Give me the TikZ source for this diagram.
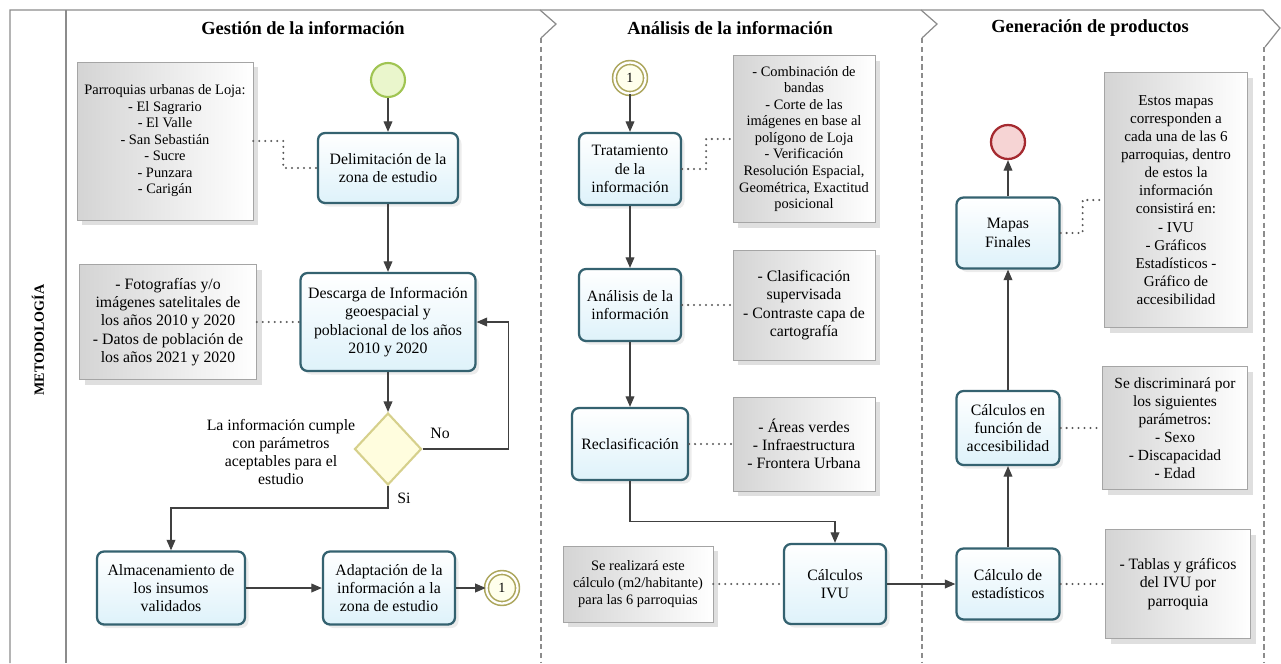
\documentclass[tikz,border=0pt]{standalone}
\usepackage{fontspec}
\setmainfont{Liberation Serif}
\usetikzlibrary{shapes.geometric,arrows.meta,shadows}

\definecolor{taskline}{RGB}{52,98,112}
\definecolor{taskfill}{RGB}{222,242,250}
\definecolor{notegray}{RGB}{212,212,212}
\definecolor{noteline}{RGB}{165,165,165}
\definecolor{startfill}{RGB}{234,246,204}
\definecolor{startline}{RGB}{160,196,82}
\definecolor{endfill}{RGB}{246,212,212}
\definecolor{endline}{RGB}{165,42,48}
\definecolor{linkline}{RGB}{172,166,92}
\definecolor{linkfill}{RGB}{255,255,236}
\definecolor{gatefill}{RGB}{255,253,222}
\definecolor{gateline}{RGB}{214,208,140}

\tikzset{
  txt/.style={align=center,font=\fontsize{9}{10.4}\selectfont},
  task/.style={txt,draw=taskline,line width=1.3pt,rounded corners=4pt,
    top color=white,bottom color=taskfill,inner sep=2pt,
    drop shadow={opacity=0.15,shadow xshift=2pt,shadow yshift=-2pt}},
  note/.style={align=center,font=\fontsize{8.2}{9.4}\selectfont,draw=noteline,
    line width=0.4pt,left color=notegray,right color=white,inner sep=2pt,
    drop shadow={opacity=0.25,shadow xshift=3pt,shadow yshift=-3pt}},
  flow/.style={draw=black!75,line width=0.7pt,-{Triangle[length=6pt,width=5pt]}},
  assoc/.style={draw=black!65,line width=1.3pt,line cap=round,dash pattern=on 0pt off 3.4pt},
  frame/.style={draw=black!45,line width=0.7pt},
  lane/.style={draw=black!45,line width=0.6pt,dash pattern=on 3pt off 2pt},
  lanetitle/.style={font=\bfseries\fontsize{10.5}{12}\selectfont},
  link/.style={circle,draw=linkline,line width=0.9pt,double=white,double distance=1.3pt,
    fill=linkfill,minimum size=0.62cm,inner sep=0pt,font=\fontsize{8}{9}\selectfont}
}

\begin{document}
\begin{tikzpicture}[x=0.02cm,y=-0.02cm]
\useasboundingbox (0,0) rectangle (1281,663);

\draw[frame] (10,663) -- (10,10) -- (1263,10) -- (1280,28) -- (1265,47);
\draw[frame] (66,10) -- (66,663);
\draw[frame] (540,10) -- (556,24) -- (541,38);
\draw[frame] (921,10) -- (937,24) -- (922,38);
\draw[lane] (541,38) -- (541,663);
\draw[lane] (922,38) -- (922,663);
\draw[lane] (1264,47) -- (1264,663);

\node[font=\bfseries\fontsize{8}{9}\selectfont,rotate=90] (lanename) at (38,340) {METODOLOGÍA};
\node[lanetitle] (t1) at (303,28) {Gestión de la información};
\node[lanetitle] (t2) at (730,28) {Análisis de la información};
\node[lanetitle] (t3) at (1090,28) {Generación de productos};

\node[circle,draw=startline,line width=1.2pt,fill=startfill,minimum size=0.68cm] (start) at (388,80) {};
\node[note,minimum width=3.52cm,minimum height=3.16cm] (note1) at (165,141)
  {Parroquias urbanas de Loja:\\- El Sagrario\\- El Valle\\- San Sebastián\\- Sucre\\- Punzara\\- Carigán};
\node[task,minimum width=2.8cm,minimum height=1.4cm] (delim) at (388,168) {Delimitación de la\\zona de estudio};
\node[note,font=\fontsize{9}{10.4}\selectfont,minimum width=3.54cm,minimum height=2.3cm] (note2) at (168,322)
  {- Fotografías y/o\\imágenes satelitales de\\los años 2010 y 2020\\- Datos de población de\\los años 2021 y 2020};
\node[task,minimum width=3.5cm,minimum height=1.96cm] (desc) at (388,322)
  {Descarga de Información\\geoespacial y\\poblacional de los años\\2010 y 2020};
\node[diamond,draw=gateline,line width=1.2pt,fill=gatefill,minimum width=1.34cm,minimum height=1.44cm,inner sep=0pt] (dec) at (388,449) {};
\node[txt] (declabel) at (281,452) {La información cumple\\con parámetros\\aceptables para el\\estudio};
\node[txt] (nolabel) at (440,433) {No};
\node[txt] (silabel) at (404,498) {Si};
\node[task,minimum width=2.96cm,minimum height=1.46cm] (alm) at (171,588) {Almacenamiento de\\los insumos\\validados};
\node[task,minimum width=2.64cm,minimum height=1.46cm] (adap) at (389,588) {Adaptación de la\\información a la\\zona de estudio};
\node[link] (lnka) at (502,588) {1};

\node[link] (lnkb) at (630,78) {1};
\node[task,minimum width=2.04cm,minimum height=1.44cm] (trat) at (630,169) {Tratamiento\\de la\\información};
\node[note,minimum width=2.84cm,minimum height=3.34cm] (note3) at (804,139)
  {- Combinación de\\bandas\\- Corte de las\\imágenes en base al\\polígono de Loja\\- Verificación\\Resolución Espacial,\\Geométrica, Exactitud\\posicional};
\node[task,minimum width=2.04cm,minimum height=1.44cm] (anal) at (630,305) {Análisis de la\\información};
\node[note,font=\fontsize{9}{10.4}\selectfont,minimum width=2.84cm,minimum height=2.2cm] (note4) at (804,305)
  {- Clasificación\\supervisada\\- Contraste capa de\\cartografía};
\node[task,minimum width=2.32cm,minimum height=1.44cm] (recl) at (630,444) {Reclasificación};
\node[note,font=\fontsize{9}{10.4}\selectfont,minimum width=2.84cm,minimum height=1.88cm] (note5) at (804,444)
  {- Áreas verdes\\- Infraestructura\\- Frontera Urbana};
\node[note,minimum width=3cm,minimum height=1.52cm] (note6) at (638,584)
  {Se realizará este\\cálculo (m2/habitante)\\para las 6 parroquias};
\node[task,minimum width=2.04cm,minimum height=1.6cm] (ivu) at (835,584) {Cálculos\\IVU};

\node[circle,draw=endline,line width=1.3pt,fill=endfill,minimum size=0.68cm] (endc) at (1008,142) {};
\node[task,minimum width=2.06cm,minimum height=1.42cm] (mapas) at (1008,233) {Mapas\\Finales};
\node[note,font=\fontsize{8.6}{10.3}\selectfont,minimum width=2.86cm,minimum height=5.1cm] (note7) at (1176,200)
  {Estos mapas\\corresponden a\\cada una de las 6\\parroquias, dentro\\de estos la\\información\\consistirá en:\\- IVU\\- Gráficos\\Estadísticos -\\Gráfico de\\accesibilidad};
\node[task,minimum width=2.06cm,minimum height=1.48cm] (acces) at (1008,428) {Cálculos en\\función de\\accesibilidad};
\node[note,font=\fontsize{8.8}{10.2}\selectfont,minimum width=2.9cm,minimum height=2.46cm] (note8) at (1175,428)
  {Se discriminará por\\los siguientes\\parámetros:\\- Sexo\\- Discapacidad\\- Edad};
\node[task,minimum width=2.06cm,minimum height=1.42cm] (estad) at (1008,584) {Cálculo de\\estadísticos};
\node[note,font=\fontsize{9}{10.4}\selectfont,minimum width=2.9cm,minimum height=2.18cm] (note9) at (1178,584)
  {- Tablas y gráficos\\del IVU por\\parroquia};

\draw[flow] (start) -- (delim);
\draw[flow] (delim) -- (desc);
\draw[flow] (desc) -- (dec);
\draw[flow] (dec.east) -- ++(86,0) |- (desc.east);
\draw[flow] (dec.south) -- ++(0,22) -| (alm.north);
\draw[flow] (alm) -- (adap);
\draw[flow] (adap) -- (lnka);
\draw[flow] (lnkb) -- (trat);
\draw[flow] (trat) -- (anal);
\draw[flow] (anal) -- (recl);
\draw[flow] (recl.south) -- ++(0,40) -| (ivu.north);
\draw[flow] (ivu) -- (estad);
\draw[flow] (estad) -- (acces);
\draw[flow] (acces) -- (mapas);
\draw[flow] (mapas) -- (endc);

\draw[assoc] (note1.east) -- ++(30,0) |- (delim.west);
\draw[assoc] (note2) -- (desc);
\draw[assoc] (trat.east) -- ++(24,0) |- (note3.west);
\draw[assoc] (anal) -- (note4);
\draw[assoc] (recl) -- (note5);
\draw[assoc] (note6) -- (ivu);
\draw[assoc] (mapas.east) -- ++(22,0) |- (note7.west);
\draw[assoc] (acces) -- (note8);
\draw[assoc] (estad) -- (note9);
\end{tikzpicture}
\end{document}
